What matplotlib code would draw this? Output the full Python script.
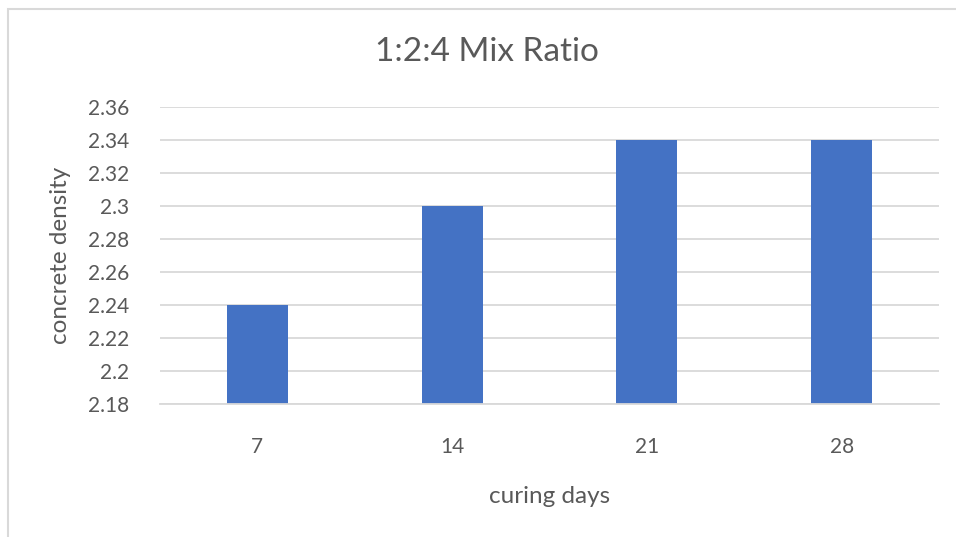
import matplotlib
matplotlib.use("Agg")
import matplotlib.pyplot as plt
from matplotlib.patches import Rectangle

# Concrete density by curing age for a 1:2:4 mix
curing_days = ["7", "14", "21", "28"]
density = [2.24, 2.30, 2.34, 2.34]
y_ticks = [2.18, 2.20, 2.22, 2.24, 2.26, 2.28, 2.30, 2.32, 2.34, 2.36]
y_tick_labels = ["2.18", "2.2", "2.22", "2.24", "2.26", "2.28", "2.3", "2.32", "2.34", "2.36"]

W, H = 956, 537
TEXT = "#595959"
GRID = "#d9d9d9"
BAR = "#4472c4"

plt.rcParams["font.family"] = ["Lato", "DejaVu Sans"]

fig = plt.figure(figsize=(W / 100, H / 100), dpi=100)
fig.patch.set_facecolor("white")

# chart-area outline (runs off the right and bottom edges)
fig.patches.append(Rectangle((7.5 / W, -0.1), 1.2, 1.1 - 8.5 / H,
                             transform=fig.transFigure, fill=False,
                             edgecolor=GRID, linewidth=1.5, zorder=0))

left, right = 160 / W, 939 / W
bottom, top = 1 - 404 / H, 1 - 107 / H
ax = fig.add_axes([left, bottom, right - left, top - bottom])

x = range(len(curing_days))
ax.bar(x, [d - y_ticks[0] for d in density], bottom=y_ticks[0],
       width=0.313, color=BAR, zorder=3)

ax.set_xlim(-0.5, len(curing_days) - 0.5)
ax.set_ylim(y_ticks[0], y_ticks[-1])
ax.set_yticks(y_ticks)
ax.set_yticklabels(y_tick_labels)
ax.set_xticks(list(x))
ax.set_xticklabels(curing_days)

ax.grid(axis="y", color=GRID, linewidth=1.3, zorder=0)
for side in ("top", "right", "left"):
    ax.spines[side].set_visible(False)
ax.spines["bottom"].set_color(GRID)
ax.spines["bottom"].set_linewidth(1.3)
ax.spines["bottom"].set_zorder(4)

ax.tick_params(axis="both", length=0, labelsize=15, labelcolor=TEXT)
ax.tick_params(axis="y", pad=22)
ax.tick_params(axis="x", pad=24)

ax.set_xlabel("curing days", fontsize=17.5, color=TEXT, va="center")
ax.xaxis.set_label_coords(0.5, -0.31)
ax.set_ylabel("concrete density", fontsize=17.5, color=TEXT, va="center")
ax.yaxis.set_label_coords(-0.128, 0.5)

fig.text(487 / W, 1 - 52 / H, "1:2:4 Mix Ratio", fontsize=24,
         color=TEXT, ha="center", va="center")

fig.savefig("out.png", dpi=100, facecolor="white")
